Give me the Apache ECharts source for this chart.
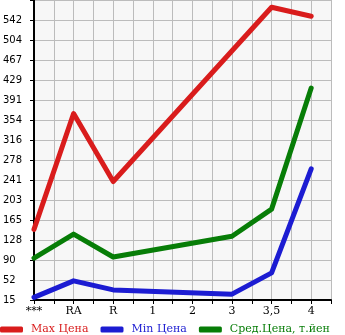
<!DOCTYPE html>
<html><head><meta charset="utf-8">
<style>html,body{margin:0;padding:0;background:#fff}#c{width:345px;height:335px}</style>
<script src="https://cdn.jsdelivr.net/npm/echarts@6/dist/echarts.min.js"></script>
</head><body><div id="c"></div>
<script>
var categories = ['***', 'RA', 'R', '1', '2', '3', '3,5', '4'];
var maxPrice = [148, 366, 238, null, null, null, 566, 549];
var minPrice = [20, 51, 34, null, null, 26, 66, 262];
var avgPrice = [94, 139, 96, null, null, 135, 186, 414];
var yTickLabels = ['15', '52', '90', '128', '165', '203', '241', '278', '316', '354', '391', '429', '467', '504', '542'];
var seriesNames = ['Max Цена', 'Min Цена', 'Сред.Цена, т.йен'];
var colors = ['#d91c1c', '#1c1cd2', '#077d07'];

var yMin = 15, yStep = (542 - 15) / 14;
function pairs(arr) { return arr.map(function (v, i) { return [i, v]; }); }
var chart = echarts.init(document.getElementById('c'));
var datasets = [maxPrice, minPrice, avgPrice];
chart.setOption({
  animation: false,
  grid: { left: 31, top: 0, width: 300, height: 300, show: true, backgroundColor: '#f7f7f7', borderWidth: 0 },
  legend: {
    left: 0, top: 324, padding: 0, itemWidth: 23, itemHeight: 6, itemGap: 12, icon: 'roundRect',
    data: seriesNames.map(function (n, i) { return { name: n, textStyle: { color: colors[i] } }; }),
    textStyle: { fontFamily: 'DejaVu Serif', fontSize: 11, padding: [0, 0, 0, 3] }
  },
  xAxis: {
    type: 'value', min: 0, max: 7.5, interval: 0.5,
    axisLine: { lineStyle: { color: '#000', width: 2 } },
    axisTick: { show: true, length: 4, lineStyle: { color: '#000', width: 1 } },
    splitLine: { show: true, lineStyle: { color: '#bcbcbc', width: 1 } },
    axisLabel: {
      margin: 6, color: '#000', fontFamily: 'DejaVu Serif', fontSize: 11,
      formatter: function (v) { return (Math.abs(v - Math.round(v)) < 1e-6 && categories[Math.round(v)] !== undefined) ? categories[Math.round(v)] : ''; }
    }
  },
  yAxis: {
    type: 'value', min: yMin, max: yMin + 15 * yStep, interval: yStep,
    axisLine: { show: true, lineStyle: { color: '#000', width: 2 } },
    axisTick: { show: true, length: 4, lineStyle: { color: '#000', width: 1 } },
    splitLine: { show: true, lineStyle: { color: '#bcbcbc', width: 1 } },
    axisLabel: {
      margin: 31, align: 'left', color: '#000', fontFamily: 'DejaVu Sans', fontSize: 10,
      padding: [0, 0, 6, 0],
      formatter: function (v) { var k = Math.round((v - yMin) / yStep); return yTickLabels[k] !== undefined ? yTickLabels[k] : ''; }
    }
  },
  series: datasets.map(function (d, i) {
    return {
      name: seriesNames[i], type: 'line', data: pairs(d), connectNulls: true,
      showSymbol: false, symbol: 'none', color: colors[i],
      lineStyle: { width: 5, color: colors[i], cap: 'round', join: 'round' }
    };
  })
});
</script></body></html>
